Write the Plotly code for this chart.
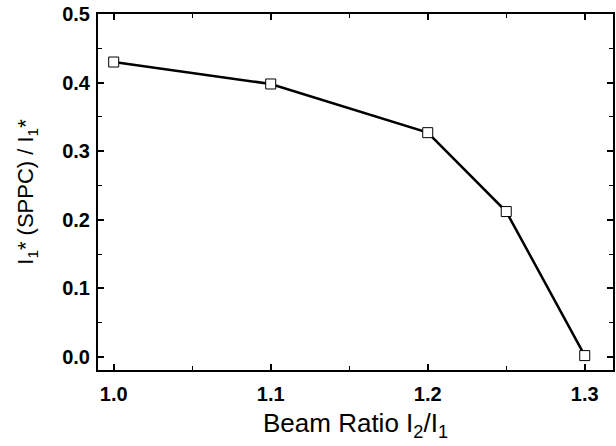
import plotly.graph_objects as go

beam_ratio = [1.0, 1.1, 1.2, 1.25, 1.3]
sppc_ratio = [0.430, 0.398, 0.327, 0.212, 0.002]
x_ticks = [1.0, 1.1, 1.2, 1.3]
x_tick_labels = ["1.0", "1.1", "1.2", "1.3"]
y_ticks = [0.0, 0.1, 0.2, 0.3, 0.4, 0.5]
y_tick_labels = ["0.0", "0.1", "0.2", "0.3", "0.4", "0.5"]

fig = go.Figure()
fig.add_trace(go.Scatter(
    x=beam_ratio, y=sppc_ratio, mode="lines+markers",
    line=dict(color="black", width=2.5),
    marker=dict(symbol="square", size=10, color="white",
                line=dict(color="black", width=1)),
    showlegend=False,
))

tick_font = dict(family="Liberation Sans, Arial", size=20, color="black")

axis_common = dict(
    showgrid=False, zeroline=False, showline=True, linecolor="black",
    linewidth=2, mirror="allticks", ticks="inside", ticklen=6, tickwidth=1.5,
    tickcolor="black",
    minor=dict(ticks="inside", ticklen=4, tickwidth=1.2, tickcolor="black"),
)

fig.update_xaxes(
    range=[0.99, 1.318], tickvals=x_ticks,
    ticktext=["<b>" + t + "</b>" for t in x_tick_labels],
    tickfont=tick_font,
    title=dict(text="Beam Ratio I<sub>2</sub>/I<sub>1</sub>",
               font=dict(family="Liberation Sans, Arial", size=26, color="black"),
               standoff=10),
    ticklabelstandoff=5,
    minor_dtick=0.05,
    **axis_common,
)
fig.update_yaxes(
    range=[-0.019, 0.5], tickvals=y_ticks,
    ticktext=["<b>" + t + "</b>" for t in y_tick_labels],
    tickfont=tick_font,
    title=dict(text="I<sub>1</sub>* (SPPC) / I<sub>1</sub>*",
               font=dict(family="Liberation Sans, Arial", size=22, color="black"),
               standoff=22),
    ticklabelstandoff=2,
    minor_dtick=0.05,
    **axis_common,
)

fig.update_layout(
    width=616, height=446,
    margin=dict(l=98, r=1, t=14, b=76),
    plot_bgcolor="white", paper_bgcolor="white",
)

fig.write_html("out.html", config={"displayModeBar": False},
               post_script="document.body.style.margin='0';document.body.style.overflow='hidden';")
